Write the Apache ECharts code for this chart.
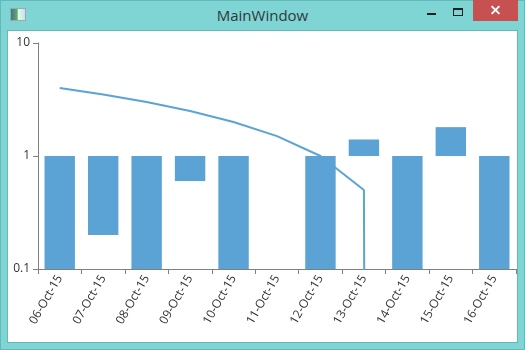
<!DOCTYPE html>
<html>
<head>
<meta charset="utf-8">
<script src="https://cdn.jsdelivr.net/npm/echarts@6/dist/echarts.min.js"></script>
<style>
html,body{margin:0;padding:0;width:525px;height:350px;overflow:hidden;}
#win{position:absolute;left:0;top:0;width:523px;height:348px;background:#7fd4d4;border:1px solid #63b8b8;}
#client{position:absolute;left:7px;top:30px;width:509px;height:311px;background:#fff;border:1px solid #66b9b9;}
#title{position:absolute;left:0;top:5px;width:525px;text-align:center;font-family:"Open Sans","Noto Sans",sans-serif;font-size:15px;color:#2f3a3a;line-height:20px;}
#icon{position:absolute;left:10px;top:8px;width:14px;height:11px;border:1px solid #9aa;background:linear-gradient(90deg,#3a7a8a 0,#6aa86a 45%,#dfe 50%,#cde 100%);}
#min{position:absolute;left:427px;top:13px;width:9px;height:2px;background:#222;}
#max{position:absolute;left:453px;top:8px;width:8px;height:5px;border:1px solid #222;border-top-width:2px;}
#close{position:absolute;left:473px;top:0;width:45px;height:21px;background:#c75050;}
#close .a,#close .b{position:absolute;left:17px;top:9px;width:11px;height:2px;background:#fff;}
#close .a{transform:rotate(45deg);} #close .b{transform:rotate(-45deg);}
#chart{position:absolute;left:0;top:0;width:525px;height:350px;}
</style>
</head>
<body>
<div id="win"></div>
<div id="client"></div>
<div id="icon"></div>
<div id="title">MainWindow</div>
<div id="min"></div>
<div id="max"></div>
<div id="close"><div class="a"></div><div class="b"></div></div>
<div id="chart"></div>
<script>
var categories = ['06-Oct-15','07-Oct-15','08-Oct-15','09-Oct-15','10-Oct-15','11-Oct-15','12-Oct-15','13-Oct-15','14-Oct-15','15-Oct-15','16-Oct-15'];
var barValues = [0.1, 0.2, 0.1, 0.6, 0.1, 1, 0.1, 1.4, 0.1, 1.8, 0.1];
var barBase = 1;
var lineValues = [4, 3.5, 3, 2.5, 2, 1.5, 1, 0.5, 0, 0, 0];
var yTicks = [0.1, 1, 10];

// log axis cannot show 0: map non-positive values to a vanishingly small value (drawn off the bottom, clipped)
var lineData = lineValues.map(function(v, i){ return [i, v > 0 ? v : 1e-100]; });
var barData = barValues.map(function(v, i){ return [i, v]; });

var chart = echarts.init(document.getElementById('chart'), null, {renderer:'canvas'});
var blue = '#5ba3d4';
chart.setOption({
  animation:false,
  backgroundColor:'transparent',
  grid:{left:38, right:9, top:43, bottom:81, containLabel:false},
  xAxis:{
    type:'category', data:categories, boundaryGap:true,
    axisLine:{lineStyle:{color:'#808080', width:1}},
    axisTick:{show:true, length:5, lineStyle:{color:'#808080'}},
    axisLabel:{rotate:60, interval:0, color:'#333', fontFamily:'Open Sans', fontSize:12, margin:7},
    splitLine:{show:false}
  },
  yAxis:{
    type:'log', logBase:10, min:yTicks[0], max:yTicks[yTicks.length-1], interval:1,
    axisLine:{show:true, lineStyle:{color:'#808080', width:1}},
    axisTick:{show:true, length:5, lineStyle:{color:'#808080'}},
    axisLabel:{color:'#333', fontFamily:'Open Sans', fontSize:12, margin:8,
      formatter:function(v){ return String(Math.round(v*1000)/1000); }},
    splitLine:{show:false}, minorTick:{show:false}
  },
  series:[
    {
      type:'custom', data:barData, clip:true,
      encode:{x:0, y:1},
      renderItem:function(params, api){
        var i = api.value(0), v = api.value(1);
        var p0 = api.coord([i, barBase]);
        var p1 = api.coord([i, v]);
        var w = api.size([1, 0])[0] * 0.7;
        var top = Math.min(p0[1], p1[1]), h = Math.abs(p0[1] - p1[1]);
        return {type:'rect', shape:{x:p0[0]-w/2, y:top, width:w, height:h}, style:{fill:blue}};
      }
    },
    {
      type:'line', data:lineData, showSymbol:false, symbol:'none', clip:true,
      lineStyle:{color:blue, width:2}, z:3
    }
  ]
});
</script>
</body>
</html>
